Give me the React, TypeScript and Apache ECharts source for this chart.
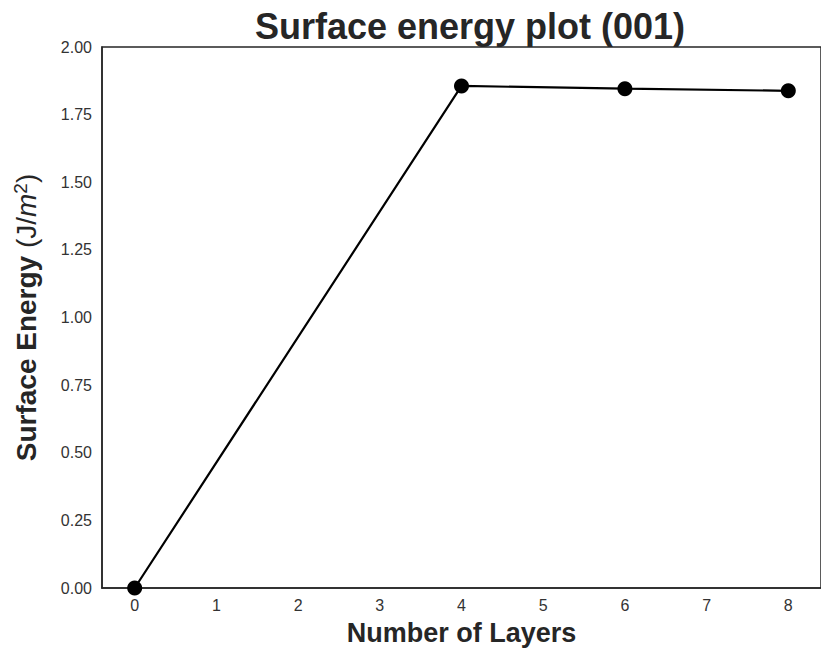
import React, { useEffect, useRef } from "react";
import * as echarts from "echarts";

const layers = [0, 4, 6, 8];
const energies = [0.0, 1.856, 1.846, 1.838];
const xTicks = [0, 1, 2, 3, 4, 5, 6, 7, 8];

const FONT = "'Liberation Sans', Arial, sans-serif";

export default function App() {
  const ref = useRef<HTMLDivElement>(null);
  useEffect(() => {
    if (!ref.current) return;
    const chart = echarts.init(ref.current, null, { renderer: "svg" });
    chart.setOption({
      animation: false,
      backgroundColor: "#ffffff",
      title: {
        text: "Surface energy plot (001)",
        left: 465,
        textAlign: "center",
        top: 3,
        textStyle: { fontFamily: FONT, fontSize: 36, fontWeight: "bold", color: "#262626" },
      },
      grid: {
        left: 102,
        top: 47,
        width: 724,
        height: 541,
        show: true,
        borderColor: "#262626",
        borderWidth: 1.5,
        containLabel: false,
      },
      xAxis: {
        type: "value",
        min: -0.4,
        max: 8.4,
        name: "Number of Layers",
        nameLocation: "middle",
        nameGap: 31,
        nameTextStyle: { fontFamily: FONT, fontSize: 27, fontWeight: "bold", color: "#262626" },
        axisLine: { show: true, onZero: false, lineStyle: { color: "#262626", width: 1.5 } },
        axisTick: { show: false },
        splitLine: { show: false },
        axisLabel: {
          customValues: xTicks,
          fontFamily: FONT,
          fontSize: 16,
          color: "#333333",
          margin: 9,
        },
      },
      yAxis: {
        type: "value",
        min: 0,
        max: 2,
        interval: 0.25,
        name: "{b|Surface Energy }{n|(J/}{i|m}{s|2}{n|)}",
        nameLocation: "middle",
        nameGap: 60,
        nameRotate: 90,
        nameTextStyle: {
          fontFamily: FONT,
          color: "#262626",
          rich: {
            b: { fontFamily: FONT, fontSize: 28, fontWeight: "bold", color: "#262626" },
            n: { fontFamily: FONT, fontSize: 28, color: "#262626" },
            i: { fontFamily: FONT, fontSize: 28, fontStyle: "italic", color: "#262626" },
            s: { fontFamily: FONT, fontSize: 19, color: "#262626", verticalAlign: "top", padding: [0, 0, 12, 0] },
          },
        },
        axisLine: { show: true, onZero: false, lineStyle: { color: "#262626", width: 1.5 } },
        axisTick: { show: false },
        splitLine: { show: false },
        axisLabel: {
          fontFamily: FONT,
          fontSize: 16,
          color: "#333333",
          margin: 10,
          formatter: (v: number) => v.toFixed(2),
        },
      },
      series: [
        {
          type: "line",
          data: layers.map((x, i) => [x, energies[i]]),
          symbol: "circle",
          symbolSize: 15,
          lineStyle: { color: "#000000", width: 2.2 },
          itemStyle: { color: "#000000" },
          clip: false,
        },
      ],
    });
    return () => chart.dispose();
  }, []);
  return (
    <div
      ref={ref}
      style={{ position: "absolute", left: 0, top: 0, width: 821, height: 653 }}
    />
  );
}
